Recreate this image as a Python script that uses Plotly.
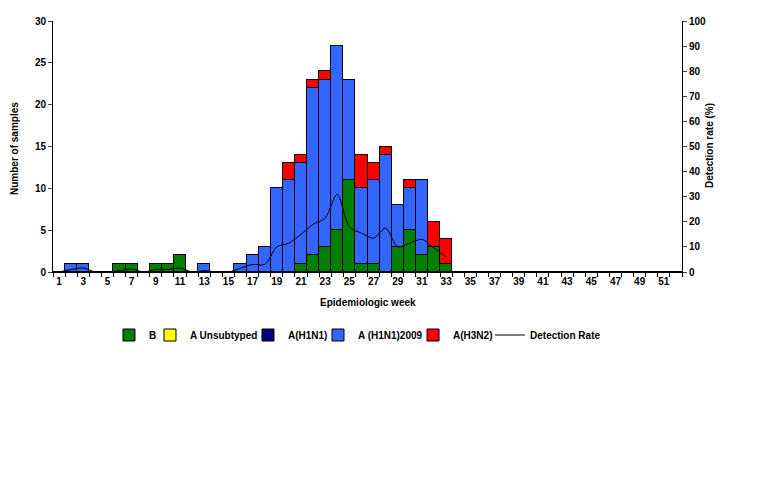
import plotly.graph_objects as go

# weekly lab data
weeks = list(range(1, 53))
b_vals = [0, 0, 0, 0, 0, 1, 1, 0, 1, 1, 2, 0, 0, 0, 0, 0, 0, 0, 0, 0,
          1, 2, 3, 5, 11, 1, 1, 0, 3, 5, 2, 3, 1] + [0] * 19
a_unsub = [0] * 52
a_h1n1 = [0] * 52
a_pdm = [0, 1, 1, 0, 0, 0, 0, 0, 0, 0, 0, 0, 1, 0, 0, 1, 2, 3, 10, 11,
         12, 20, 20, 22, 12, 9, 10, 14, 5, 5, 9, 0, 0] + [0] * 19
a_h3n2 = [0] * 19 + [2, 1, 1, 1, 0, 0, 4, 2, 1, 0, 1, 0, 3, 3] + [0] * 19
rate_weeks = list(range(1, 34))
rate = [0, 1, 1.6, 0, 0, 0.5, 1.2, 0, 1, 1, 1.6, 0, 0.5, 0, 0, 1.5, 3, 3,
        10, 11.5, 15, 19, 21.5, 31, 18, 15.5, 13.5, 17.5, 10, 11.5, 13, 9.5, 6]

bold = dict(family="Liberation Sans, Arial", size=10, color="black", weight="bold")
outline = dict(color="black", width=1)

fig = go.Figure()
fig.add_trace(go.Bar(x=weeks, y=b_vals, name="B", legend="legend",
                     marker=dict(color="#008000", line=outline)))
fig.add_trace(go.Bar(x=weeks, y=a_unsub, name="A Unsubtyped", legend="legend2",
                     marker=dict(color="#FFFF00", line=outline)))
fig.add_trace(go.Bar(x=weeks, y=a_h1n1, name="A(H1N1)", legend="legend3",
                     marker=dict(color="#000080", line=outline)))
fig.add_trace(go.Bar(x=weeks, y=a_pdm, name="A (H1N1)2009", legend="legend4",
                     marker=dict(color="#3366FF", line=outline)))
fig.add_trace(go.Bar(x=weeks, y=a_h3n2, name="A(H3N2)", legend="legend5",
                     marker=dict(color="#FF0000", line=outline)))
fig.add_trace(go.Scatter(x=rate_weeks, y=rate, name="Detection Rate", yaxis="y2", mode="lines",
                         legend="legend6",
                         line=dict(color="black", width=1, shape="spline", smoothing=0.8)))

# one small legend per entry so the row is packed like the original
leg_x = [0.0890, 0.1542, 0.3100, 0.4213, 0.5724, 0.6948]
legends = {}
for i, lx in enumerate(leg_x):
    key = "legend" if i == 0 else "legend%d" % (i + 1)
    legends[key] = dict(orientation="h", x=lx, xanchor="left", y=-0.251, yanchor="middle",
                        font=bold, itemwidth=30, bgcolor="rgba(0,0,0,0)")

fig.update_layout(
    width=768, height=480,
    barmode="stack", bargap=0,
    plot_bgcolor="white", paper_bgcolor="white",
    margin=dict(l=45, r=94, t=13, b=216),
    font=dict(family="Liberation Sans, Arial", size=10, color="black"),
    xaxis=dict(range=[0.5, 52.5], tickvals=list(range(1, 53, 2)), ticks="", showgrid=False,
               showline=True, linecolor="black", linewidth=1, automargin=False,
               minor=dict(tick0=0.5, dtick=1, ticks="outside", ticklen=4, tickcolor="black"),
               tickfont=bold),
    yaxis=dict(range=[0, 30], dtick=5, ticks="outside", ticklen=4, showgrid=False, zeroline=False,
               showline=True, linecolor="black", linewidth=1, automargin=False, tickfont=bold),
    yaxis2=dict(range=[0, 100], dtick=10, overlaying="y", side="right", ticks="outside", ticklen=4,
                showgrid=False, zeroline=False, showline=True, linecolor="black", linewidth=1,
                automargin=False, tickfont=bold),
    showlegend=True,
    **legends
)

fig.add_annotation(text="Epidemiologic week", xref="paper", yref="paper", x=0.5, y=-0.151,
                   xanchor="center", showarrow=False, font=bold)
fig.add_annotation(text="Number of samples", xref="paper", yref="paper", x=-0.062, y=0.49,
                   xanchor="center", textangle=-90, showarrow=False, font=bold)
fig.add_annotation(text="Detection rate (%)", xref="paper", yref="paper", x=1.0445, y=0.506,
                   xanchor="center", textangle=-90, showarrow=False, font=bold)

fig.write_html("out.html")
